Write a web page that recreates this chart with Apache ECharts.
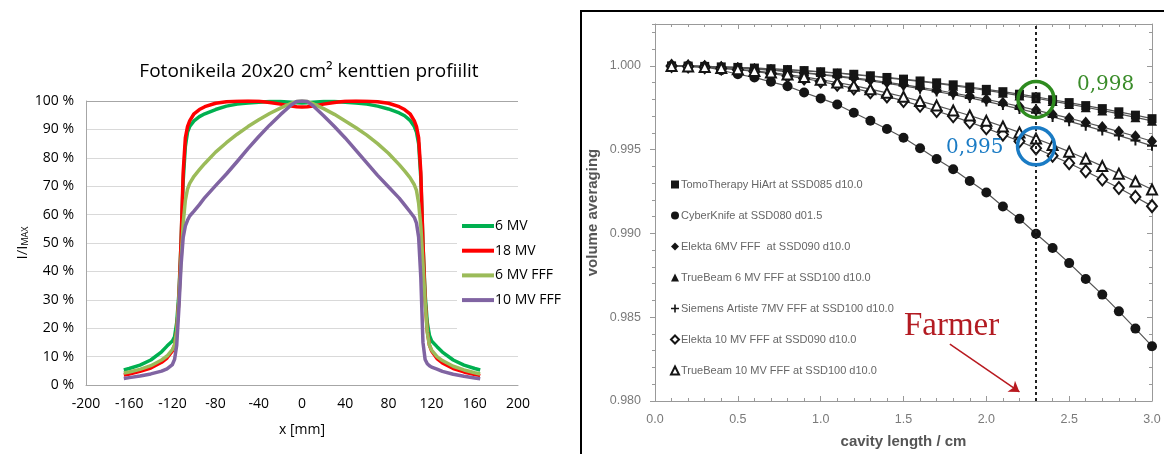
<!DOCTYPE html>
<html>
<head>
<meta charset="utf-8">
<script src="https://cdn.jsdelivr.net/npm/echarts@6/dist/echarts.min.js"></script>
<style>
  html, body { margin: 0; padding: 0; background: #fff; }
  #chart { width: 1164px; height: 454px; }
</style>
</head>
<body>
<div id="chart"></div>
<script>
// ---- left: beam profiles (x in mm, relative intensity in %) ----
const profileX = [-165,-160,-150,-140,-130,-125,-120,-118,-116,-114,-112,-110,-108,-106,-104,-100,-95,-90,-80,-70,-60,-50,-40,-30,-20,-10,-5,
  0,
  5,10,20,30,40,50,60,70,80,90,95,100,104,106,108,110,112,114,116,118,120,125,130,140,150,160,165];
const mv6 = [5.3,5.8,7,8.8,11.7,13.7,15.5,17,22,32,50,72,84,89,91,93,94.5,95.5,97,98.2,98.9,99.3,99.6,99.8,99.8,99.6,99.4,
  99.3,
  99.4,99.6,99.8,99.8,99.6,99.3,98.9,98.2,97.2,95.8,94.8,93.2,91,89,85,73,50,32,22,17.5,15.5,13.5,11.6,8.8,7,5.8,5.3];
const mv18 = [3.5,3.9,4.8,6.0,8.0,9.5,12,14,19,30,50,75,87,91,93,95.5,97,98,99.2,99.7,99.9,100,99.9,99.5,98.9,98.2,98.0,
  97.9,
  98.0,98.2,98.9,99.5,99.9,100,99.9,99.7,99.2,98,97,95.5,93,91,87,75,50,30,19,14,12,9.3,7.8,5.8,4.6,3.7,3.3];
const mv6fff = [4.2,4.6,5.5,6.8,8.8,10.2,12.5,14,19,30,44,57,65,69,71,73.5,75.8,78,82,85.3,88.3,91,93.4,95.6,97.5,99.2,99.8,
  100,
  99.8,99.1,97.3,95.3,93,90.6,88,85,81.6,77.6,75.4,73,70.5,68.5,64,56,43,29,18.5,14,12.3,10,8.6,6.6,5.3,4.3,3.9];
const mv10fff = [2.3,2.6,3.2,3.9,4.9,5.7,7.2,9,14,27,42,52,56,58,59.5,61.2,63.5,66,70.2,74.3,78.7,83.2,87.5,91.5,95.2,98.6,99.8,
  100,
  99.8,98.4,94.8,91,87,82.6,78.2,73.8,69.8,65.8,63.4,61,59,57,52,38,15,9,7.5,6.8,6.3,5.6,4.8,3.8,3.1,2.5,2.2];
const profileNames = ['6 MV', '18 MV', '6 MV FFF', '10 MV FFF'];

// ---- right: volume averaging vs cavity length ----
const cavity = [0.1,0.2,0.3,0.4,0.5,0.6,0.7,0.8,0.9,1.0,1.1,1.2,1.3,1.4,1.5,1.6,1.7,1.8,1.9,2.0,2.1,2.2,2.3,2.4,2.5,2.6,2.7,2.8,2.9,3.0];
const tomo = [1.0000,0.99999,0.99997,0.99994,0.99991,0.99987,0.99983,0.99978,0.99972,0.99965,0.99958,0.99950,0.99941,0.99931,0.99921,0.99910,0.99899,0.99887,0.99874,0.99860,0.99846,0.99831,0.99815,0.99798,0.99781,0.99763,0.99745,0.99726,0.99706,0.99685];
const cyber = [1.0000,1.0000,0.99996,0.99974,0.99950,0.99931,0.99905,0.99879,0.99841,0.99806,0.99770,0.99720,0.99673,0.99623,0.99571,0.99508,0.99444,0.99383,0.99313,0.99244,0.99161,0.99087,0.98998,0.98913,0.98823,0.98728,0.98635,0.98535,0.98432,0.98327];
const elekta6 = [1.0000,0.99998,0.99996,0.99992,0.99988,0.99982,0.99976,0.99968,0.99960,0.99950,0.99940,0.99928,0.99916,0.99902,0.99888,0.99872,0.99856,0.99838,0.99820,0.99800,0.99780,0.99758,0.99736,0.99712,0.99688,0.99662,0.99636,0.99608,0.99580,0.99550];
const trueBeam6 = [1.0000,0.99999,0.99997,0.99994,0.99991,0.99987,0.99982,0.99977,0.99970,0.99964,0.99956,0.99947,0.99938,0.99928,0.99918,0.99907,0.99895,0.99882,0.99868,0.99854,0.99839,0.99823,0.99807,0.99790,0.99772,0.99753,0.99734,0.99714,0.99693,0.99672];
const siemens7 = [0.99999,0.99998,0.99995,0.99992,0.99987,0.99981,0.99974,0.99966,0.99957,0.99947,0.99936,0.99924,0.99910,0.99896,0.99881,0.99864,0.99847,0.99828,0.99809,0.99788,0.99766,0.99743,0.99720,0.99695,0.99669,0.99642,0.99614,0.99584,0.99554,0.99523];
const elekta10 = [0.99999,0.99996,0.99992,0.99985,0.99977,0.99967,0.99954,0.99940,0.99925,0.99907,0.99887,0.99866,0.99843,0.99818,0.99791,0.99762,0.99731,0.99699,0.99664,0.99628,0.99590,0.99550,0.99508,0.99464,0.99419,0.99371,0.99322,0.99271,0.99218,0.99163];
const trueBeam10 = [0.99999,0.99997,0.99993,0.99987,0.99980,0.99970,0.99960,0.99948,0.99934,0.99918,0.99901,0.99882,0.99861,0.99839,0.99816,0.99790,0.99763,0.99734,0.99704,0.99672,0.99638,0.99603,0.99566,0.99528,0.99488,0.99446,0.99402,0.99357,0.99310,0.99262];
const cavityNames = [
  'TomoTherapy HiArt at SSD085 d10.0',
  'CyberKnife at SSD080 d01.5',
  'Elekta 6MV FFF  at SSD090 d10.0',
  'TrueBeam 6 MV FFF at SSD100 d10.0',
  'Siemens Artiste 7MV FFF at SSD100 d10.0',
  'Elekta 10 MV FFF at SSD090 d10.0',
  'TrueBeam 10 MV FFF at SSD100 d10.0'
];
const farmerLength = 2.3;
// annotations: [x, y, text]
const noteHigh = [2.72, 0.99887, '0,998'];
const noteLow = [1.93, 0.99512, '0,995'];
const noteFarmer = [1.79, 0.98446, 'Farmer'];
const arrowFrom = [1.78, 0.98339];
const arrowTo = [2.2, 0.98054];

const plusPath = 'path://M4,0h2v4h4v2h-4v4h-2v-4h-4v-2h4z';
const profileColors = ['#00b050', '#ff0000', '#9bbb59', '#8064a2'];

const chart = echarts.init(document.getElementById('chart'));

function pairs(xs, ys) {
  return xs.map((x, i) => [x, ys[i]]);
}

const leftFont = 'Open Sans, Liberation Sans, sans-serif';
const rightFont = 'Liberation Sans, sans-serif';

const profileSeries = [mv6, mv18, mv6fff, mv10fff].map((d, i) => ({
  name: profileNames[i],
  type: 'line',
  xAxisIndex: 0,
  yAxisIndex: 0,
  data: pairs(profileX, d),
  showSymbol: false,
  symbol: 'none',
  lineStyle: { color: profileColors[i], width: 3.5, join: 'round' },
  itemStyle: { color: profileColors[i] },
  z: 3 + i
}));

const cavityStyle = [
  { symbol: 'rect', symbolSize: 9 },
  { symbol: 'circle', symbolSize: 10 },
  { symbol: 'diamond', symbolSize: [10, 12] },
  { symbol: 'triangle', symbolSize: 10 },
  { symbol: plusPath, symbolSize: 10 },
  { symbol: 'emptyDiamond', symbolSize: [10, 12] },
  { symbol: 'emptyTriangle', symbolSize: 10 }
];

const cavitySeries = [tomo, cyber, elekta6, trueBeam6, siemens7, elekta10, trueBeam10].map((d, i) => ({
  name: cavityNames[i],
  type: 'line',
  xAxisIndex: 1,
  yAxisIndex: 1,
  data: pairs(cavity, d),
  symbol: cavityStyle[i].symbol,
  symbolSize: cavityStyle[i].symbolSize,
  showAllSymbol: true,
  lineStyle: { color: '#555', width: 1.2 },
  itemStyle: { color: '#151515', borderColor: '#151515', borderWidth: i >= 5 ? 1.3 : 0 },
  z: 3
}));

// dashed Farmer line
cavitySeries[1].markLine = {
  silent: true,
  symbol: 'none',
  label: { show: false },
  lineStyle: { color: '#222', width: 2, type: [3, 3] },
  data: [{ xAxis: farmerLength }]
};
// arrow
cavitySeries[0].markLine = {
  silent: true,
  symbol: ['none', 'arrow'],
  symbolSize: 10,
  label: { show: false },
  lineStyle: { color: '#b8191f', width: 1.5, type: 'solid' },
  data: [[{ coord: arrowFrom }, { coord: arrowTo }]]
};
// circles and annotation text
cavitySeries[1].markPoint = {
  silent: true,
  data: [
    { coord: [farmerLength, 0.99800], symbol: 'circle', symbolSize: 36,
      itemStyle: { color: 'rgba(0,0,0,0)', borderColor: '#2e8b1f', borderWidth: 3.5 }, label: { show: false } },
    { coord: [farmerLength, 0.99520], symbol: 'circle', symbolSize: 37,
      itemStyle: { color: 'rgba(0,0,0,0)', borderColor: '#1a7bc4', borderWidth: 3.5 }, label: { show: false } },
    { coord: noteHigh.slice(0, 2), symbol: 'circle', symbolSize: 1, itemStyle: { color: 'rgba(0,0,0,0)' },
      label: { show: true, position: 'inside', formatter: noteHigh[2], color: '#3a8c2a', fontSize: 20, fontFamily: 'DejaVu Serif, serif' } },
    { coord: noteLow.slice(0, 2), symbol: 'circle', symbolSize: 1, itemStyle: { color: 'rgba(0,0,0,0)' },
      label: { show: true, position: 'inside', formatter: noteLow[2], color: '#1a7bc4', fontSize: 20, fontFamily: 'DejaVu Serif, serif' } },
    { coord: noteFarmer.slice(0, 2), symbol: 'circle', symbolSize: 1, itemStyle: { color: 'rgba(0,0,0,0)' },
      label: { show: true, position: 'inside', formatter: noteFarmer[2], color: '#b31b22', fontSize: 33, fontFamily: 'Liberation Serif, serif' } }
  ]
};

const rightTickColor = '#999';
function cavityYAxis(position, interval, len, inside, showLine, showLabel) {
  return {
    type: 'value',
    gridIndex: 1,
    position: position,
    min: 0.98,
    max: 1.0025,
    interval: interval,
    axisLine: { show: showLine, onZero: false, lineStyle: { color: rightTickColor, width: 1 } },
    axisTick: { show: true, inside: inside, length: len, lineStyle: { color: rightTickColor } },
    axisLabel: {
      show: showLabel, showMaxLabel: false, margin: 14,
      color: '#7a7a7a', fontSize: 12.5, fontFamily: rightFont,
      formatter: v => v.toFixed(3)
    },
    splitLine: { show: false },
    name: showLabel ? 'volume averaging' : '',
    nameLocation: 'middle',
    nameGap: 55,
    nameTextStyle: { color: '#555', fontSize: 15, fontWeight: 'bold', fontFamily: rightFont }
  };
}

const option = {
  animation: false,
  backgroundColor: '#fff',
  title: {
    text: 'Fotonikeila 20x20 cm² kenttien profiilit',
    left: 304,
    textAlign: 'center',
    top: 57,
    textStyle: { fontSize: 19, fontWeight: 'normal', color: '#000', fontFamily: leftFont }
  },
  grid: [
    { left: 86, right: 646, top: 101, bottom: 69 },
    { left: 655, right: 12, top: 24, bottom: 52 }
  ],
  legend: [
    {
      data: profileNames.map(n => ({ name: n, icon: 'rect' })),
      orient: 'vertical',
      left: 457,
      top: 210,
      itemWidth: 32,
      itemHeight: 4,
      itemGap: 10.7,
      padding: [9, 8, 22, 5],
      backgroundColor: '#fff',
      textStyle: { fontSize: 14, color: '#000', fontFamily: leftFont, padding: [0, 0, 0, -4] },
      selectedMode: false
    },
    {
      data: cavityNames.map((n, i) => ({ name: n, icon: cavityStyle[i].symbol })),
      orient: 'vertical',
      left: 670,
      top: 179,
      itemWidth: 8,
      itemHeight: 8,
      itemGap: 20,
      padding: 0,
      textStyle: { fontSize: 11, color: '#666', fontFamily: rightFont, padding: [0, 0, 0, -3] },
      selectedMode: false
    }
  ],
  xAxis: [
    {
      type: 'value',
      gridIndex: 0,
      min: -200,
      max: 200,
      interval: 40,
      axisLine: { show: true, onZero: false, lineStyle: { color: '#a6a6a6' } },
      axisTick: { show: false },
      axisLabel: { color: '#000', fontSize: 14, margin: 12, fontFamily: leftFont },
      splitLine: { show: false },
      name: 'x [mm]',
      nameLocation: 'middle',
      nameGap: 38,
      nameTextStyle: { color: '#000', fontSize: 14, fontFamily: leftFont }
    },
    {
      type: 'value',
      gridIndex: 1,
      position: 'bottom',
      min: 0,
      max: 3,
      interval: 0.5,
      axisLine: { show: true, onZero: false, lineStyle: { color: rightTickColor } },
      axisTick: { show: true, inside: true, length: 5, lineStyle: { color: rightTickColor } },
      minorTick: { show: true, splitNumber: 5, length: 3, lineStyle: { color: rightTickColor } },
      axisLabel: { color: '#7a7a7a', fontSize: 12.5, margin: 12, fontFamily: rightFont, formatter: v => v.toFixed(1) },
      splitLine: { show: false },
      name: 'cavity length / cm',
      nameLocation: 'middle',
      nameGap: 33,
      nameTextStyle: { color: '#555', fontSize: 15, fontWeight: 'bold', fontFamily: rightFont }
    },
    {
      type: 'value',
      gridIndex: 1,
      position: 'top',
      min: 0,
      max: 3,
      interval: 0.5,
      axisLine: { show: true, onZero: false, lineStyle: { color: rightTickColor } },
      axisTick: { show: true, inside: true, length: 5, lineStyle: { color: rightTickColor } },
      minorTick: { show: true, splitNumber: 5, length: 3, lineStyle: { color: rightTickColor } },
      axisLabel: { show: false },
      splitLine: { show: false }
    }
  ],
  yAxis: [
    {
      type: 'value',
      gridIndex: 0,
      min: 0,
      max: 100,
      interval: 10,
      axisLine: { show: true, onZero: false, lineStyle: { color: '#a6a6a6' } },
      axisTick: { show: false },
      axisLabel: { color: '#000', fontSize: 14, margin: 12, fontFamily: leftFont, formatter: '{value} %' },
      splitLine: {
        show: true,
        lineStyle: { color: ['#d9d9d9','#d9d9d9','#d9d9d9','#d9d9d9','#d9d9d9','#d9d9d9','#d9d9d9','#d9d9d9','#d9d9d9','#d9d9d9','#a6a6a6'] }
      },
      name: '{a|I/I}{b|MAX}',
      nameLocation: 'middle',
      nameGap: 56,
      nameTextStyle: {
        color: '#000',
        rich: {
          a: { fontSize: 15, fontFamily: leftFont, color: '#000' },
          b: { fontSize: 9, fontFamily: leftFont, color: '#000', verticalAlign: 'bottom', padding: [6, 0, 0, 0] }
        }
      }
    },
    cavityYAxis('left', 0.005, 5, false, true, true),
    cavityYAxis('left', 0.001, 3, false, false, false),
    cavityYAxis('right', 0.005, 5, true, true, false),
    cavityYAxis('right', 0.001, 3, true, false, false)
  ],
  graphic: [
    {
      type: 'rect',
      silent: true,
      z: 100,
      shape: { x: 581, y: 11, width: 640, height: 500 },
      style: { fill: 'none', stroke: '#000', lineWidth: 2 }
    }
  ],
  series: profileSeries.concat(cavitySeries)
};

chart.setOption(option);
</script>
</body>
</html>
